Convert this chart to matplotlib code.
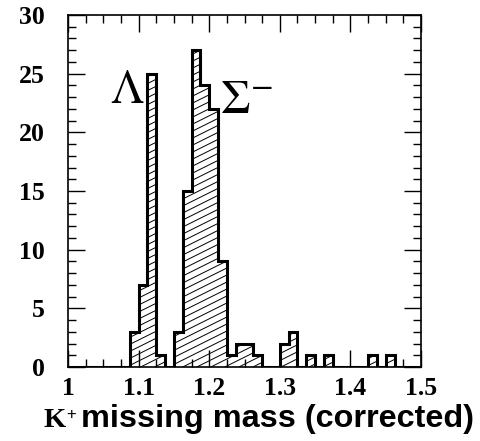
import numpy as np
import matplotlib
matplotlib.use("Agg")
import matplotlib.pyplot as plt
from matplotlib.ticker import MultipleLocator
from matplotlib.patches import Polygon
from matplotlib.collections import LineCollection

# Histogram data: 40 bins from 1.0 to 1.5 (width 0.0125)
bin_lo, bin_hi, n_bins = 1.0, 1.5, 40
counts = [0, 0, 0, 0, 0, 0, 0,           # 1.0000 - 1.0875
          3, 7, 25, 1, 0,                # Lambda peak 1.0875 - 1.15
          3, 15, 27, 24, 22, 9,          # Sigma peak 1.15 - 1.225
          1, 2, 2, 1, 0, 0,              # 1.225 - 1.30
          2, 3, 0, 1, 0, 1, 0, 0,        # 1.30 - 1.40
          0, 0, 1, 0, 1, 0, 0, 0]        # 1.40 - 1.50
x_ticks = [1, 1.1, 1.2, 1.3, 1.4, 1.5]
x_tick_labels = ["1", "1.1", "1.2", "1.3", "1.4", "1.5"]
y_ticks = [0, 5, 10, 15, 20, 25, 30]
y_tick_labels = ["0", "5", "10", "15", "20", "25", "30"]

edges = np.linspace(bin_lo, bin_hi, n_bins + 1)

plt.rcParams['mathtext.fontset'] = 'stix'

fig = plt.figure(figsize=(4.8, 4.41), dpi=100)
ax = fig.add_axes([68/480, 1 - 367/441, (421-68)/480, (367-15)/441])
ax.set_xlim(1.0, 1.5)
ax.set_ylim(0, 30)

# clip region = histogram area
verts = [(edges[0], 0)]
for i, c in enumerate(counts):
    verts.append((edges[i], c))
    verts.append((edges[i + 1], c))
verts.append((edges[-1], 0))
poly = Polygon(verts, closed=True, facecolor='none', edgecolor='none')
ax.add_patch(poly)

# shallow diagonal hatch (in axes coordinates)
slope = 0.5
spacing = 7.0 / 352
segs = []
for c in np.arange(-0.6, 1.0, spacing):
    segs.append([(0, c), (1, c + slope)])
hatch = LineCollection(segs, colors='black', linewidths=0.7, transform=ax.transAxes)
hatch.set_clip_path(poly)
ax.add_collection(hatch)

ax.stairs(counts, edges, fill=False, edgecolor='black', linewidth=2.2, baseline=0)

ax.set_xticks(x_ticks)
ax.set_xticklabels(x_tick_labels)
ax.set_yticks(y_ticks)
ax.set_yticklabels(y_tick_labels)
ax.xaxis.set_minor_locator(MultipleLocator(0.025))
ax.yaxis.set_minor_locator(MultipleLocator(1))
ax.tick_params(which='both', direction='in', top=True, right=True, width=1.0)
ax.tick_params(which='major', length=12)
ax.tick_params(which='minor', length=6)
ax.tick_params(axis='y', which='major', pad=17)
ax.tick_params(axis='x', which='major', pad=7)
for lab in ax.get_xticklabels() + ax.get_yticklabels():
    lab.set_fontfamily('Liberation Serif')
    lab.set_fontweight('bold')
    lab.set_fontsize(18.5)
for sp in ax.spines.values():
    sp.set_linewidth(1.2)

ax.text(1.0595, 22.5, r'$\Lambda$', fontsize=34, ha='left', va='baseline')
ax.text(1.215, 21.65, r'$\Sigma^{-}$', fontsize=34, ha='left', va='baseline')

# x-axis title: serif K with superscript plus, then sans bold text
base_y = 1 - 427/441
fig.text(44/480, base_y, 'K', family='Liberation Serif', fontweight='bold',
         fontsize=20.5, ha='left', va='baseline')
fig.text(66/480, 1 - 415/441, '+', family='Liberation Sans',
         fontsize=12, ha='left', va='center')
fig.text(474/480, base_y, 'missing mass (corrected)', family='Liberation Sans',
         fontweight='bold', fontsize=23.3, ha='right', va='baseline')

fig.savefig('out.png', dpi=100)
